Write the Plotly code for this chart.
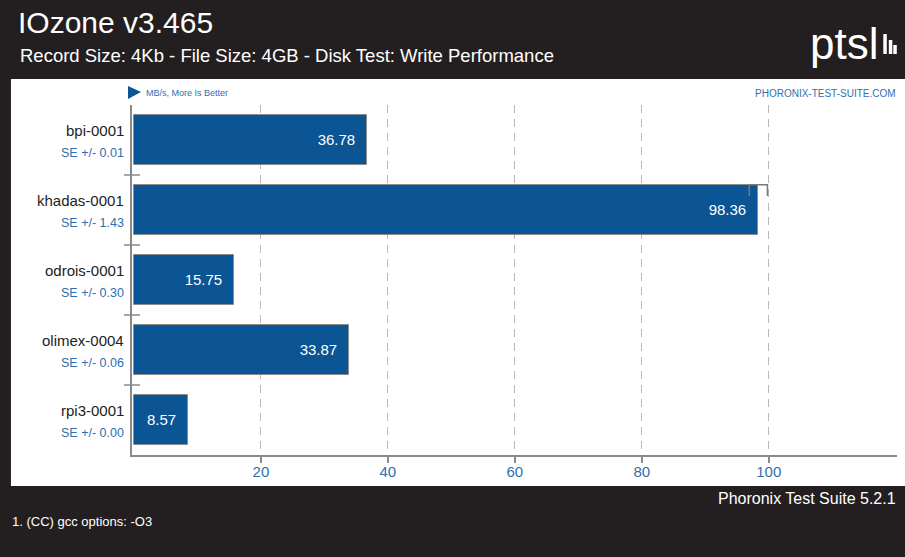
import plotly.graph_objects as go

# ---- data ----
categories = ["bpi-0001", "khadas-0001", "odrois-0001", "olimex-0004", "rpi3-0001"]
values = [36.78, 98.36, 15.75, 33.87, 8.57]
se_values = [0.01, 1.43, 0.30, 0.06, 0.00]
x_ticks = [20, 40, 60, 80, 100]

title = "IOzone v3.465"
subtitle = "Record Size: 4Kb - File Size: 4GB - Disk Test: Write Performance"
unit_note = "MB/s, More Is Better"
site = "PHORONIX-TEST-SUITE.COM"
footer_right = "Phoronix Test Suite 5.2.1"
footer_note = "1. (CC) gcc options: -O3"

# ---- geometry (pixels) ----
W, H = 905, 557
L, R = 132, 896.7
T, B = 105, 455
PW, PH = R - L, B - T

def px(x):
    return (x - L) / PW

def py(y):
    return (B - y) / PH

FONT = "Liberation Sans, Arial, Helvetica, sans-serif"
BAR = "#0b5595"
BLUE = "#2f6fb0"
DARK = "#231f20"
GRID = "#b8b8b8"
AX = "#8a8a8a"
BW = 0.72

idx = list(range(len(categories)))

fig = go.Figure()

fig.add_trace(go.Bar(
    x=values, y=idx, orientation="h", width=BW,
    marker=dict(color=BAR, line=dict(color="#8c8c8c", width=1)),
    text=[f"{v:.2f}  " for v in values], textposition="inside",
    insidetextanchor="end", textangle=0,
    textfont=dict(color="white", size=15, family=FONT),
    cliponaxis=False, hoverinfo="skip",
))

# SE brackets (only drawn where wide enough to be visible)
ex, ey = [], []
for i, (v, s) in enumerate(zip(values, se_values)):
    if s < 0.5:
        continue
    top = i - BW / 2
    ex += [v - s, v - s, v + s, v + s, None]
    ey += [top + 0.16, top, top, top + 0.16, None]
fig.add_trace(go.Scatter(x=ex, y=ey, mode="lines",
                         line=dict(color="#7a7a7a", width=1.5),
                         hoverinfo="skip", cliponaxis=False))

shapes = [
    # white panel
    dict(type="rect", xref="paper", yref="paper", layer="below",
         x0=px(11), x1=px(W + 2), y0=py(486), y1=py(79),
         fillcolor="white", line=dict(width=0)),
]
# category boundary ticks
for i in idx[:-1]:
    shapes.append(dict(type="line", xref="paper", yref="y",
                       x0=px(124), x1=px(140), y0=i + 0.5, y1=i + 0.5,
                       line=dict(color=AX, width=1.5)))
# logo bars
for (x0, y0) in [(883, 34), (888.5, 40), (893, 45)]:
    shapes.append(dict(type="rect", xref="paper", yref="paper",
                       x0=px(x0), x1=px(x0 + 3.5), y0=py(54), y1=py(y0),
                       fillcolor="white", line=dict(width=0)))
# unit triangle
shapes.append(dict(type="path", xref="paper", yref="paper",
                   path=f"M {px(128)} {py(86)} L {px(141)} {py(92)} L {px(128)} {py(99)} Z",
                   fillcolor=BAR, line=dict(width=0)))

ann = []
for i, (c, s) in enumerate(zip(categories, se_values)):
    ann.append(dict(x=px(126), y=i, xref="paper", yref="y", text=c,
                    xanchor="right", yanchor="middle", yshift=10, showarrow=False,
                    font=dict(size=15, color="#222222", family=FONT)))
    ann.append(dict(x=px(126), y=i, xref="paper", yref="y", text=f"SE +/- {s:.2f}",
                    xanchor="right", yanchor="middle", yshift=-13, showarrow=False,
                    font=dict(size=12.5, color=BLUE, family=FONT)))

def txt(t, x, y, size, color, xa="left", ya="middle"):
    ann.append(dict(x=px(x), y=py(y), xref="paper", yref="paper", text=t,
                    xanchor=xa, yanchor=ya, showarrow=False,
                    font=dict(size=size, color=color, family=FONT)))

txt(title, 16, 22, 30, "white")
txt(subtitle, 18, 55, 18.5, "white")
txt("ptsl", 880, 43, 44, "white", xa="right")
txt(unit_note, 144, 93, 9, BLUE)
txt(site, 898, 93, 10, BLUE, xa="right")
txt(footer_right, 898, 498, 16, "white", xa="right")
txt(footer_note, 10, 521, 13, "white")

fig.update_layout(
    width=W, height=H,
    margin=dict(l=L, r=W - R, t=T, b=H - B, pad=0),
    paper_bgcolor=DARK, plot_bgcolor="rgba(0,0,0,0)",
    showlegend=False, bargap=0,
    shapes=shapes, annotations=ann,
    font=dict(family=FONT),
    xaxis=dict(range=[-0.3, 120.2], tickvals=x_ticks, ticktext=[str(t) for t in x_ticks],
               showgrid=True, gridcolor=GRID, griddash="8px,6px", gridwidth=1,
               zeroline=False, showline=True, linecolor=AX, linewidth=1.5,
               ticks="outside", ticklen=6, tickcolor=AX, tickwidth=1.5,
               ticklabelstandoff=-4,
               tickfont=dict(size=15, color=BLUE, family=FONT), fixedrange=True),
    yaxis=dict(range=[len(categories) - 0.5, -0.5], showticklabels=False,
               showgrid=False, zeroline=False, showline=True, linecolor=AX,
               linewidth=1.5, ticks="", fixedrange=True),
)

fig.write_html("out.html", config={"displayModeBar": False},
               post_script="document.body.style.margin='0';document.body.style.overflow='hidden';")
